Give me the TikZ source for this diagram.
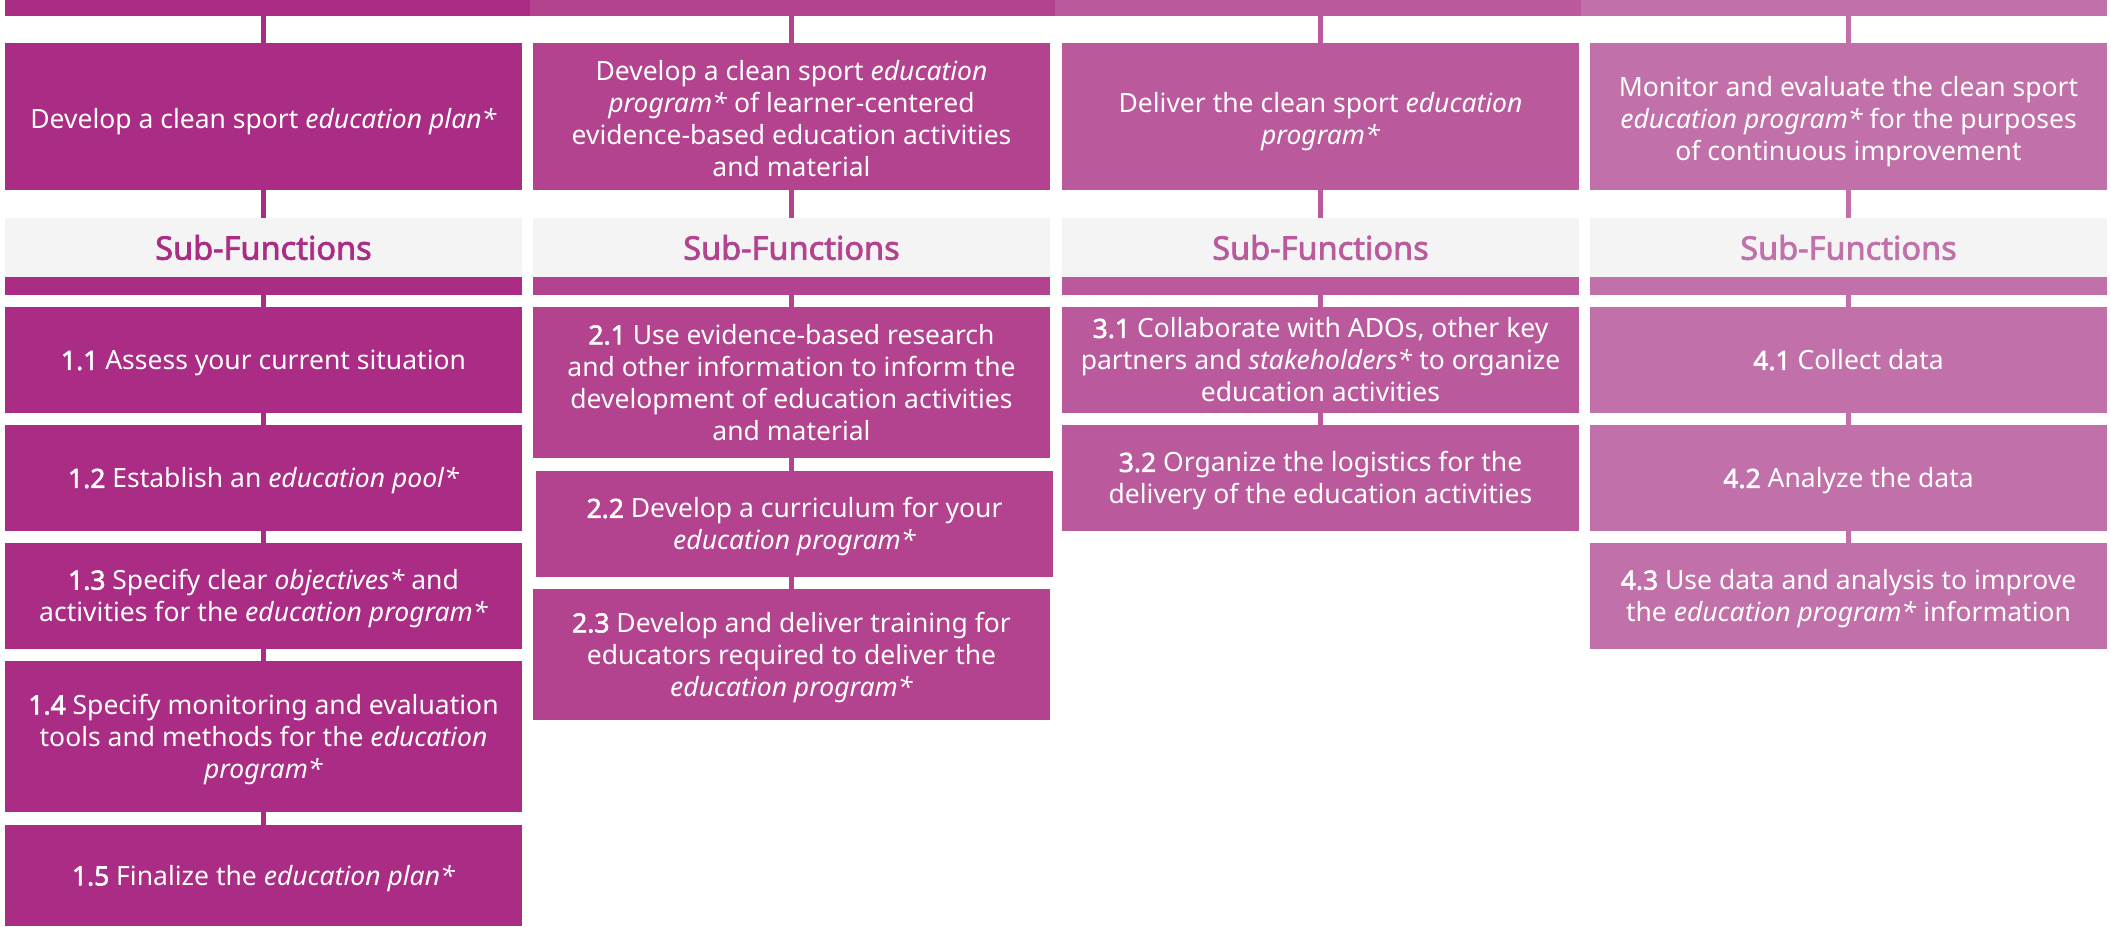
\documentclass[tikz,border=0pt]{standalone}
\usepackage{fontspec}
\setmainfont{Noto Sans}[AutoFakeBold=2.2]
\definecolor{cA}{HTML}{AA2C84}
\definecolor{cB}{HTML}{B3428F}
\definecolor{cC}{HTML}{BA5A9C}
\definecolor{cD}{HTML}{C170A9}
\definecolor{hdgray}{HTML}{F4F4F4}
\newcommand\boxfont{\fontsize{26.5}{32}\selectfont}
\newcommand\headfont{\fontsize{32.5}{36}\selectfont}
% centred lines on a strut grid, with extra room above to sit the text lower
\newcommand\linesdown[2]{\raisebox{0pt}[\dimexpr\height+#1\relax]{\begin{tabular}{@{}c@{}}#2\end{tabular}}}
\newcommand\mtxt[1]{\linesdown{12pt}{#1}}
\newcommand\stxt[1]{\linesdown{7pt}{#1}}
\tikzset{
  fbox/.style={rectangle, fill=#1, text=white, inner sep=0pt,
    minimum width=517pt, font=\boxfont},
  hdbox/.style={rectangle, fill=hdgray, text=#1, inner sep=0pt,
    minimum width=517pt, minimum height=59pt, font=\headfont\bfseries},
  band/.style={rectangle, fill=#1, inner sep=0pt, minimum width=517pt, minimum height=18pt},
  topbar/.style={rectangle, fill=#1, inner sep=0pt, minimum width=525.5pt, minimum height=16pt},
  link/.style={draw=#1, line width=5.5pt},
}
\begin{document}
\begin{tikzpicture}[x=1pt, y=-1pt]
\useasboundingbox (0,0) rectangle (2111,926);

% top bar, one segment per column
\node[topbar=cA] (barA) at (267.5,8) {};
\node[topbar=cB] (barB) at (792.5,8) {};
\node[topbar=cC] (barC) at (1318,8) {};
\node[topbar=cD] (barD) at (1844,8) {};

% main functions
\node[fbox=cA, minimum height=147pt] (mA) at (263.5,116.5)
  {\mtxt{Develop a clean sport \textit{education plan*}}};
\node[fbox=cB, minimum height=147pt] (mB) at (791.5,116.5)
  {\mtxt{Develop a clean sport \textit{education}\\\textit{program*} of learner-centered\\evidence-based education activities\\and material}};
\node[fbox=cC, minimum height=147pt] (mC) at (1320.5,116.5)
  {\mtxt{Deliver the clean sport \textit{education}\\\textit{program*}}};
\node[fbox=cD, minimum height=147pt] (mD) at (1848.5,116.5)
  {\mtxt{Monitor and evaluate the clean sport\\\textit{education program*} for the purposes\\of continuous improvement}};

% sub-function headers with their coloured bands
\node[hdbox=cA] (hA) at (263.5,247.5) {Sub-Functions};
\node[hdbox=cB] (hB) at (791.5,247.5) {Sub-Functions};
\node[hdbox=cC] (hC) at (1320.5,247.5) {Sub-Functions};
\node[hdbox=cD] (hD) at (1848.5,247.5) {Sub-Functions};
\node[band=cA] (bA) at (263.5,286) {};
\node[band=cB] (bB) at (791.5,286) {};
\node[band=cC] (bC) at (1320.5,286) {};
\node[band=cD] (bD) at (1848.5,286) {};

% column 1
\node[fbox=cA, minimum height=106pt] (s11) at (263.5,360)
  {\stxt{\textbf{1.1} Assess your current situation}};
\node[fbox=cA, minimum height=106pt] (s12) at (263.5,478)
  {\stxt{\textbf{1.2} Establish an \textit{education pool*}}};
\node[fbox=cA, minimum height=105.5pt] (s13) at (263.5,595.75)
  {\stxt{\textbf{1.3} Specify clear \textit{objectives*} and\\activities for the \textit{education program*}}};
\node[fbox=cA, minimum height=151pt] (s14) at (263.5,736.5)
  {\stxt{\textbf{1.4} Specify monitoring and evaluation\\tools and methods for the \textit{education}\\\textit{program*}}};
\node[fbox=cA, minimum height=101pt] (s15) at (263.5,875.5)
  {\stxt{\textbf{1.5} Finalize the \textit{education plan*}}};

% column 2
\node[fbox=cB, minimum height=151pt] (s21) at (791.5,382.5)
  {\stxt{\textbf{2.1} Use evidence-based research\\and other information to inform the\\development of education activities\\and material}};
\node[fbox=cB, minimum height=106pt] (s22) at (794.5,524)
  {\stxt{\textbf{2.2} Develop a curriculum for your\\\textit{education program*}}};
\node[fbox=cB, minimum height=131pt] (s23) at (791.5,654.5)
  {\stxt{\textbf{2.3} Develop and deliver training for\\educators required to deliver the\\\textit{education program*}}};

% column 3
\node[fbox=cC, minimum height=106pt] (s31) at (1320.5,360)
  {\stxt{\textbf{3.1} Collaborate with ADOs, other key\\partners and \textit{stakeholders*} to organize\\education activities}};
\node[fbox=cC, minimum height=106pt] (s32) at (1320.5,478)
  {\stxt{\textbf{3.2} Organize the logistics for the\\delivery of the education activities}};

% column 4
\node[fbox=cD, minimum height=106pt] (s41) at (1848.5,360)
  {\stxt{\textbf{4.1} Collect data}};
\node[fbox=cD, minimum height=106pt] (s42) at (1848.5,478)
  {\stxt{\textbf{4.2} Analyze the data}};
\node[fbox=cD, minimum height=105.5pt] (s43) at (1848.5,595.75)
  {\stxt{\textbf{4.3} Use data and analysis to improve\\the \textit{education program*} information}};

% connectors
\draw[link=cA] (mA.north |- barA.south) -- (mA.north);
\draw[link=cB] (mB.north |- barB.south) -- (mB.north);
\draw[link=cC] (mC.north |- barC.south) -- (mC.north);
\draw[link=cD] (mD.north |- barD.south) -- (mD.north);
\draw[link=cA] (mA.south) -- (hA.north);
\draw[link=cB] (mB.south) -- (hB.north);
\draw[link=cC] (mC.south) -- (hC.north);
\draw[link=cD] (mD.south) -- (hD.north);
\draw[link=cA] (bA.south) -- (s11.north);
\draw[link=cB] (bB.south) -- (s21.north);
\draw[link=cC] (bC.south) -- (s31.north);
\draw[link=cD] (bD.south) -- (s41.north);
\draw[link=cA] (s11.south) -- (s12.north);
\draw[link=cA] (s12.south) -- (s13.north);
\draw[link=cA] (s13.south) -- (s14.north);
\draw[link=cA] (s14.south) -- (s15.north);
\draw[link=cB] (s21.south) -- (s21.south |- s22.north);
\draw[link=cB] (s23.north |- s22.south) -- (s23.north);
\draw[link=cC] (s31.south) -- (s32.north);
\draw[link=cD] (s41.south) -- (s42.north);
\draw[link=cD] (s42.south) -- (s43.north);
\end{tikzpicture}
\end{document}
